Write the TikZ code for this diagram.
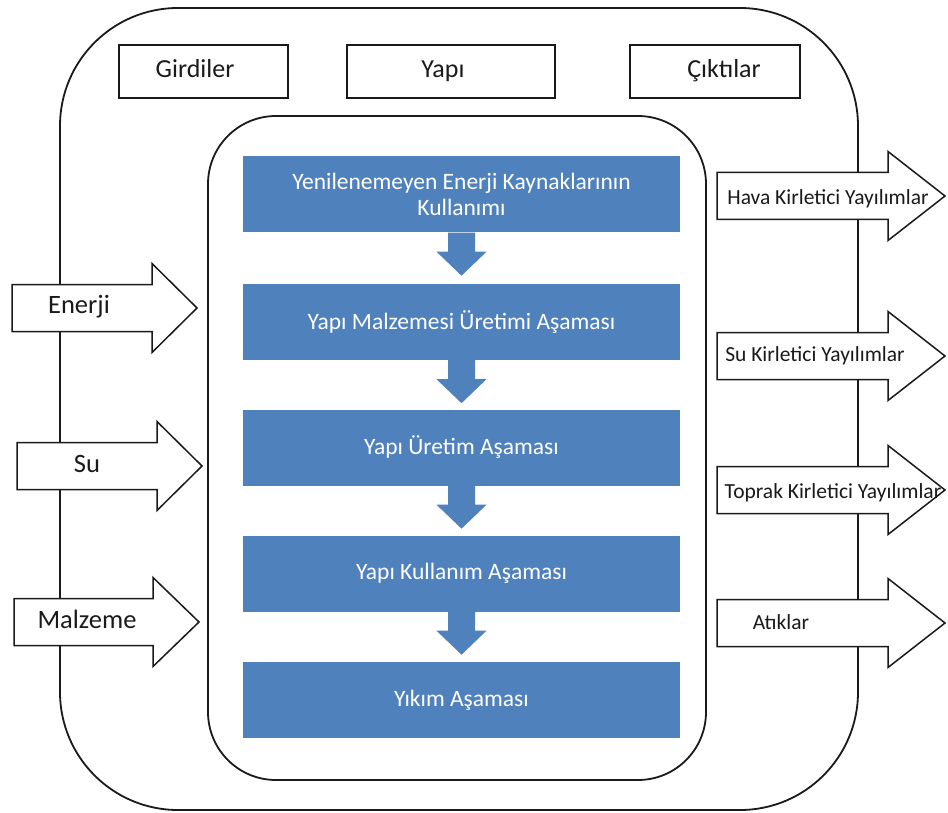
\documentclass[tikz,border=0pt]{standalone}
\usepackage{fontspec}
\setmainfont{Carlito}
\usetikzlibrary{calc}
\definecolor{stageblue}{HTML}{4F81BD}
\definecolor{inkline}{HTML}{1A1A1A}
\begin{document}
\begin{tikzpicture}[x=1pt,y=-1pt,
  frameline/.style={draw=inkline, line width=1.8pt},
  labelbox/.style={draw=inkline, line width=1.7pt, fill=white, minimum height=53pt, inner sep=0pt},
  arrowline/.style={draw=inkline, line width=1.5pt, fill=white, line join=miter},
  stagebox/.style={fill=stageblue, draw=none, minimum width=437pt, minimum height=76pt, text=white, align=center, font=\fontsize{23.5}{26}\selectfont, inner sep=0pt},
  toptext/.style={font=\fontsize{26}{30}\selectfont, text=inkline, inner sep=0pt, anchor=base},
  intext/.style={font=\fontsize{26.5}{30}\selectfont, text=inkline, inner sep=0pt, anchor=base},
  outtext/.style={font=\fontsize{21.5}{26}\selectfont, text=inkline, inner sep=0pt, anchor=base},
  pics/barrow/.style args={#1,#2}{code={
    \draw[arrowline] (0,-23.5) -- (#1,-23.5) -- (#1,-44.5) -- (#2,0) -- (#1,44.5) -- (#1,23.5) -- (0,23.5) -- cycle;}}
]
\useasboundingbox (0,0) rectangle (948,813);
\fill[white] (0,0) rectangle (948,813);

% frames
\draw[frameline, rounded corners=118pt] (60,8) rectangle (858,810);
\draw[frameline, rounded corners=68pt] (208,116) rectangle (706,780);

% header boxes
\node[labelbox, minimum width=169pt] (gbox) at (203.5,71.5) {};
\node[labelbox, minimum width=208pt] (ybox) at (451,71.5) {};
\node[labelbox, minimum width=170pt] (cbox) at (715,71.5) {};
\node[toptext] (gtxt) at (195,78) {Girdiler};
\node[toptext] (ytxt) at (443,78) {Yapı};
\node[toptext] (ctxt) at (724,78) {Çıktılar};

% stages
\node[stagebox] (b1) at (461.5,194.5) {Yenilenemeyen Enerji Kaynaklarının\\Kullanımı};
\node[stagebox] (b2) at (461.5,322) {Yapı Malzemesi Üretimi Aşaması};
\node[stagebox] (b3) at (461.5,447.5) {Yapı Üretim Aşaması};
\node[stagebox] (b4) at (461.5,573.5) {Yapı Kullanım Aşaması};
\node[stagebox] (b5) at (461.5,700) {Yıkım Aşaması};
\foreach \a in {b1,b2,b3,b4}
  \fill[stageblue] ($(\a.south)+(-13.5,0)$) -- ++(0,19) -- ++(-11.5,0)
     -- ($(\a.south)+(0,43)$) -- ($(\a.south)+(25,19)$) -- ++(-11.5,0)
     -- ($(\a.south)+(13.5,0)$) -- cycle;

% input arrows
\pic at (12,308) {barrow={140,185}};
\pic at (17,466) {barrow={140,185}};
\pic at (14,622) {barrow={139,185}};
\node[intext] (in1) at (79,313) {Enerji};
\node[intext] (in2) at (87,472) {Su};
\node[intext] (in3) at (87,628) {Malzeme};

% output arrows
\pic at (717,196) {barrow={171,228}};
\pic at (717,356) {barrow={171,228}};
\pic at (717,490) {barrow={171,228}};
\pic at (717,623) {barrow={171,228}};
\node[outtext] (out1) at (828,205) {Hava Kirletici Yayılımlar};
\node[outtext] (out2) at (815,361) {Su Kirletici Yayılımlar};
\node[outtext] (out3) at (833,498) {Toprak Kirletici Yayılımlar};
\node[outtext] (out4) at (781,629) {Atıklar};
\end{tikzpicture}
\end{document}
